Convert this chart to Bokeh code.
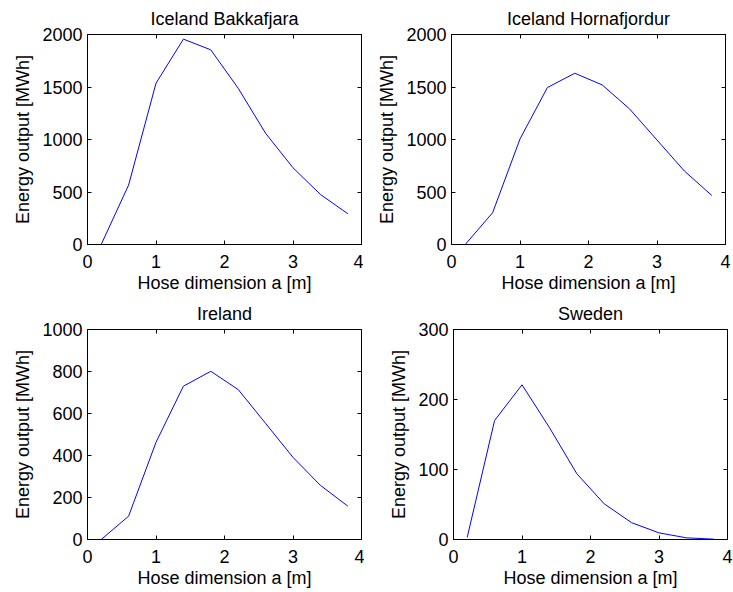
from bokeh.plotting import figure
from bokeh.layouts import column, row
from bokeh.models import LinearAxis, FixedTicker
from bokeh.embed import file_html
from bokeh.resources import INLINE

hose_a = [0.2, 0.6, 1.0, 1.4, 1.8, 2.2, 2.6, 3.0, 3.4, 3.8]
bakkafjara = [0, 566, 1536, 1956, 1854, 1488, 1059, 731, 477, 293]
hornafjordur = [0, 302, 1005, 1495, 1631, 1520, 1291, 995, 700, 467]
ireland = [0, 111, 463, 730, 801, 714, 553, 391, 258, 159]
sweden = [3, 170, 221, 160, 94, 51, 24, 9.5, 2.4, 0.5]

titles = ["Iceland Bakkafjara", "Iceland Hornafjordur", "Ireland", "Sweden"]
series = [bakkafjara, hornafjordur, ireland, sweden]
y_max = [2000, 2000, 1000, 300]
y_ticks = [[0, 500, 1000, 1500, 2000], [0, 500, 1000, 1500, 2000],
           [0, 200, 400, 600, 800, 1000], [0, 100, 200, 300]]
x_ticks = [0, 1, 2, 3, 4]
x_label = "Hose dimension a [m]"
y_label = "Energy output [MWh]"

FONT = "Liberation Sans"
FS = "18px"


def style_axis(ax, ticks, labels=True):
    ax.ticker = FixedTicker(ticks=ticks)
    ax.major_tick_in = 4
    ax.major_tick_out = 0
    ax.minor_tick_line_color = None
    ax.axis_line_color = "black"
    ax.major_tick_line_color = "black"
    ax.major_label_text_font = FONT
    ax.major_label_text_color = "black"
    ax.major_label_text_line_height = 1.0
    ax.axis_label_text_font = FONT
    ax.axis_label_text_font_style = "normal"
    ax.axis_label_text_color = "black"
    ax.axis_label_text_line_height = 1.0
    if labels:
        ax.major_label_text_font_size = FS
        ax.axis_label_text_font_size = FS
    else:
        ax.major_label_text_font_size = "0px"
        ax.major_label_standoff = 0


def make(i, bl, br, bt, bb):
    p = figure(frame_width=274, frame_height=210, x_range=(0, 4), y_range=(0, y_max[i]),
               output_backend="svg", toolbar_location=None, title=titles[i],
               min_border_left=bl, min_border_right=br, min_border_top=bt,
               min_border_bottom=bb, x_axis_label=x_label, y_axis_label=y_label)
    p.title.align = "center"
    p.title.text_font = FONT
    p.title.text_font_size = FS
    p.title.text_font_style = "normal"
    p.title.text_color = "black"
    p.title.text_line_height = 1.0
    p.title.standoff = 12
    p.grid.visible = False
    p.outline_line_color = "black"
    p.background_fill_color = "white"
    p.border_fill_color = "white"
    style_axis(p.xaxis[0], x_ticks)
    style_axis(p.yaxis[0], y_ticks[i])
    p.xaxis[0].major_label_standoff = 10
    p.xaxis[0].axis_label_standoff = 2
    p.yaxis[0].major_label_standoff = 5
    p.yaxis[0].axis_label_standoff = 6
    top = LinearAxis()
    style_axis(top, x_ticks, labels=False)
    right = LinearAxis()
    style_axis(right, y_ticks[i], labels=False)
    p.add_layout(top, "above")
    p.add_layout(right, "right")
    p.line(hose_a, series[i], line_color="#0000ff", line_width=1)
    return p


p1 = make(0, 87, 2, 34, 46)
p2 = make(1, 88, 6, 34, 46)
p3 = make(2, 87, 3, 34, 46)
p4 = make(3, 89, 6, 34, 46)

layout = column(row(p1, p2), row(p3, p4))
open("out.html", "w").write(file_html(layout, INLINE))
